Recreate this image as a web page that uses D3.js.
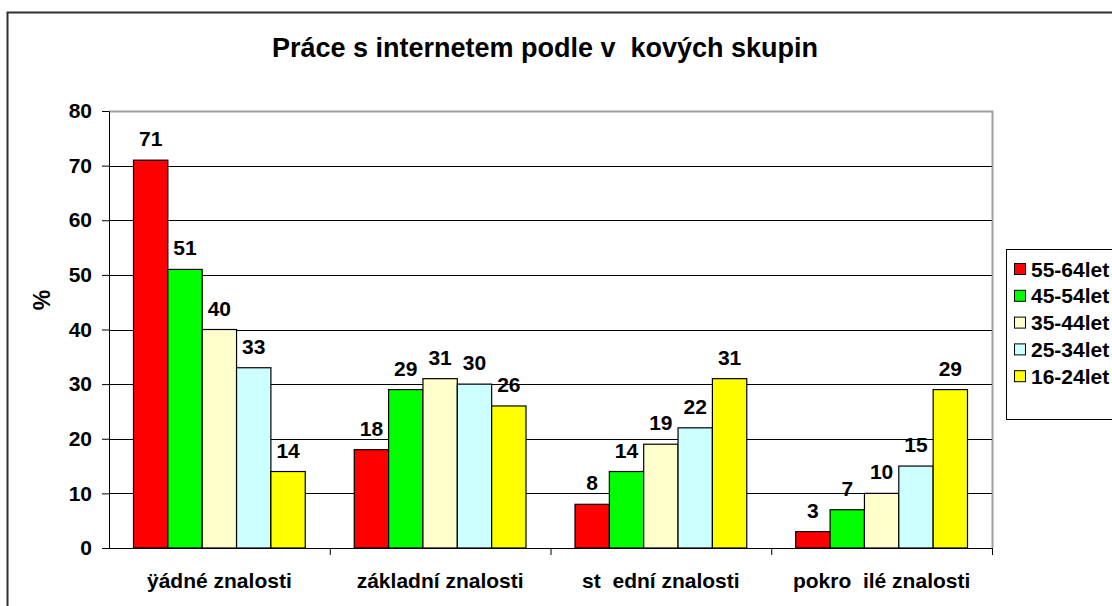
<!DOCTYPE html>
<html>
<head>
<meta charset="utf-8">
<script src="https://cdn.jsdelivr.net/npm/d3@7"></script>
<style>
  body { margin: 0; background: #fff; }
  svg { display: block; font-family: "Liberation Sans", Arial, sans-serif; font-weight: bold; }
</style>
</head>
<body>
<svg id="chart" width="1112" height="606"></svg>
<script>
// categories and series
const categories = ["ÿádné znalosti", "základní znalosti", "st  ední znalosti", "pokro  ilé znalosti"];
const seriesNames = ["55-64let", "45-54let", "35-44let", "25-34let", "16-24let"];
const s5564 = [71, 18, 8, 3];
const s4554 = [51, 29, 14, 7];
const s3544 = [40, 31, 19, 10];
const s2534 = [33, 30, 22, 15];
const s1624 = [14, 26, 31, 29];
const yTicks = [0, 10, 20, 30, 40, 50, 60, 70, 80];
const colors = ["#ff0000", "#00ff00", "#ffffcc", "#ccffff", "#ffff00"];

const seriesValues = [s5564, s4554, s3544, s2534, s1624];

const svg = d3.select("#chart");
const margin = {top: 111, left: 109, right: 120, bottom: 58};
const width = 1112 - margin.left - margin.right;   // 883
const height = 606 - margin.top - margin.bottom;   // 437
const fs = "21px";

// outer chart border
svg.append("rect")
  .attr("x", 7.5).attr("y", 12.5)
  .attr("width", 1200).attr("height", 700)
  .attr("fill", "#fff")
  .attr("stroke", "#303030")
  .attr("stroke-width", 2);

svg.append("text")
  .attr("x", 545).attr("y", 57)
  .attr("text-anchor", "middle")
  .style("font-size", "27px")
  .style("white-space", "pre")
  .attr("xml:space", "preserve")
  .text("Práce s internetem podle v  kových skupin");

const chart = svg.append("g")
  .attr("transform", `translate(${margin.left},${margin.top})`);

const x0 = d3.scaleBand().domain(categories).range([0, width]);
const gap = 49;
const x1 = d3.scaleBand().domain(seriesNames)
  .range([gap / 2, x0.bandwidth() - gap / 2]);
const y = d3.scaleLinear().domain([0, 80]).range([height, 0]);

// plot border (top/right gray)
chart.append("path")
  .attr("d", `M0,0.5H${width + 0.5}V${height}`)
  .attr("fill", "none")
  .attr("stroke", "#a0a0a0")
  .attr("stroke-width", 2);

// grid lines
chart.selectAll("line.grid")
  .data(yTicks.filter(d => d > 0 && d < 80))
  .join("line")
  .attr("class", "grid")
  .attr("x1", 0).attr("x2", width)
  .attr("y1", d => Math.round(y(d)) + 0.5)
  .attr("y2", d => Math.round(y(d)) + 0.5)
  .attr("stroke", "#000")
  .attr("stroke-width", 1);

// y axis
const yAxis = d3.axisLeft(y)
  .tickValues(yTicks)
  .tickSize(7)
  .tickSizeOuter(0)
  .tickPadding(10);
const yAxisGroup = chart.append("g").call(yAxis);
yAxisGroup.select(".domain").attr("stroke", "#000");
yAxisGroup.selectAll("text")
  .style("font-size", fs)
  .style("font-weight", "bold")
  .attr("fill", "#000")
  .attr("font-family", "Liberation Sans, Arial, sans-serif");

svg.append("text")
  .attr("transform", "translate(50,300) rotate(-90)")
  .attr("text-anchor", "middle")
  .style("font-size", "23px")
  .text("%");

// bars
const groups = chart.selectAll("g.cat")
  .data(categories)
  .join("g")
  .attr("class", "cat")
  .attr("transform", d => `translate(${x0(d)},0)`);

groups.selectAll("rect")
  .data((c, ci) => seriesNames.map((s, si) => ({s, si, v: seriesValues[si][ci]})))
  .join("rect")
  .attr("x", d => x1(d.s))
  .attr("y", d => y(d.v))
  .attr("width", x1.bandwidth())
  .attr("height", d => height - y(d.v))
  .attr("fill", d => colors[d.si])
  .attr("stroke", "#000")
  .attr("stroke-width", 1.2);

groups.selectAll("text.val")
  .data((c, ci) => seriesNames.map((s, si) => ({s, si, v: seriesValues[si][ci]})))
  .join("text")
  .attr("class", "val")
  .attr("x", d => x1(d.s) + x1.bandwidth() / 2)
  .attr("y", d => y(d.v) - 14)
  .attr("text-anchor", "middle")
  .style("font-size", fs)
  .text(d => d.v);

// x axis
const xAxisGroup = chart.append("g")
  .attr("transform", `translate(0,${height})`);
xAxisGroup.append("line")
  .attr("x1", -7).attr("x2", width)
  .attr("y1", 0.5).attr("y2", 0.5)
  .attr("stroke", "#000");
xAxisGroup.selectAll("line.tk")
  .data(categories.slice(1).concat(["end"]))
  .join("line")
  .attr("class", "tk")
  .attr("x1", (d, i) => i < 3 ? x0(d) + 0.5 : width + 0.5)
  .attr("x2", (d, i) => i < 3 ? x0(d) + 0.5 : width + 0.5)
  .attr("y1", 0).attr("y2", 7)
  .attr("stroke", "#000");
xAxisGroup.selectAll("text")
  .data(categories)
  .join("text")
  .attr("x", d => x0(d) + x0.bandwidth() / 2)
  .attr("y", 40)
  .attr("text-anchor", "middle")
  .attr("xml:space", "preserve")
  .style("white-space", "pre")
  .style("font-size", fs)
  .text(d => d);

// legend
const legend = svg.append("g").attr("transform", "translate(1006,249)");
legend.append("rect")
  .attr("x", 0.5).attr("y", 0.5)
  .attr("width", 200).attr("height", 170)
  .attr("fill", "#fff")
  .attr("stroke", "#000");
const items = legend.selectAll("g.item")
  .data(seriesNames)
  .join("g")
  .attr("class", "item")
  .attr("transform", (d, i) => `translate(0,${20 + i * 26.8})`);
items.append("rect")
  .attr("x", 8.5).attr("y", -5.5)
  .attr("width", 11).attr("height", 11)
  .attr("fill", (d, i) => colors[i])
  .attr("stroke", "#000");
items.append("text")
  .attr("x", 25).attr("y", 7.5)
  .style("font-size", fs)
  .text(d => d);
</script>
</body>
</html>
